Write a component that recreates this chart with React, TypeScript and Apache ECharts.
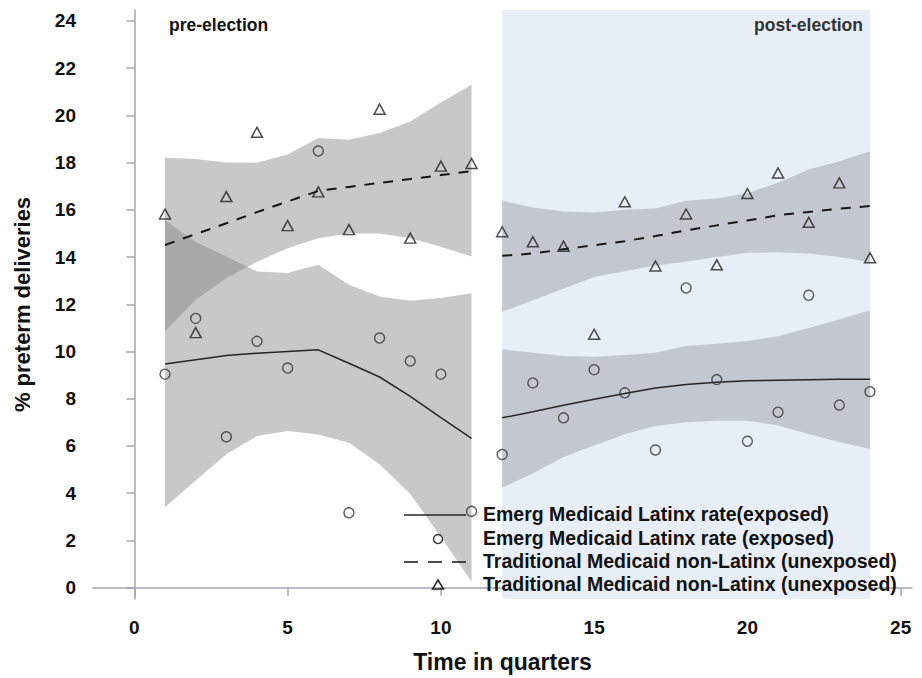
import React, { useEffect, useRef } from "react";
import * as echarts from "echarts";

// ---- data ----
const quarters = [1, 2, 3, 4, 5, 6, 7, 8, 9, 10, 11, 12, 13, 14, 15, 16, 17, 18, 19, 20, 21, 22, 23, 24];
const quartersPre = [1, 2, 3, 4, 5, 6, 7, 8, 9, 10, 11];
const quartersPost = [12, 13, 14, 15, 16, 17, 18, 19, 20, 21, 22, 23, 24];

// observed rates
const emergRate = [9.04, 11.4, 6.39, 10.43, 9.3, 18.49, 3.17, 10.57, 9.6, 9.04, 3.23, 5.64, 8.67, 7.19, 9.23, 8.25, 5.83, 12.69, 8.81, 6.2, 7.43, 12.38, 7.73, 8.3];
const tradRate = [15.82, 10.8, 16.56, 19.28, 15.33, 16.76, 15.16, 20.26, 14.8, 17.85, 17.96, 15.07, 14.65, 14.46, 10.73, 16.34, 13.62, 15.82, 13.67, 16.69, 17.56, 15.47, 17.14, 13.97];

// fitted lines and confidence bands (pre-election)
const emergFitPre = [9.47, 9.65, 9.83, 9.93, 10.0, 10.07, 9.5, 8.92, 8.1, 7.2, 6.32];
const emergLoPre = [3.4, 4.54, 5.65, 6.42, 6.63, 6.49, 6.14, 5.23, 3.97, 2.15, 0.25];
const emergHiPre = [15.56, 14.64, 14.02, 13.39, 13.32, 13.67, 12.83, 12.33, 12.15, 12.26, 12.47];
const tradFitPre = [14.51, 14.97, 15.43, 15.9, 16.35, 16.8, 16.97, 17.14, 17.3, 17.47, 17.64];
const tradLoPre = [10.86, 12.19, 13.1, 13.8, 14.37, 14.79, 15.0, 15.0, 14.79, 14.44, 14.02];
const tradHiPre = [18.2, 18.15, 18.0, 17.99, 18.34, 19.04, 18.97, 19.25, 19.74, 20.54, 21.29];

// fitted lines and confidence bands (post-election)
const emergFitPost = [7.19, 7.45, 7.72, 7.98, 8.22, 8.45, 8.6, 8.7, 8.76, 8.78, 8.8, 8.82, 8.83];
const emergLoPost = [4.24, 4.83, 5.53, 6.02, 6.5, 6.85, 7.0, 7.07, 7.07, 6.87, 6.51, 6.16, 5.88];
const emergHiPost = [10.09, 9.95, 9.81, 9.78, 9.85, 9.95, 10.23, 10.33, 10.44, 10.65, 11.0, 11.35, 11.75];
const tradFitPost = [14.05, 14.15, 14.33, 14.5, 14.67, 14.89, 15.13, 15.34, 15.55, 15.77, 15.91, 16.05, 16.16];
const tradLoPost = [11.68, 12.17, 12.66, 13.15, 13.4, 13.64, 13.8, 14.0, 14.18, 14.2, 14.15, 14.0, 13.79];
const tradHiPost = [16.38, 16.1, 15.93, 15.89, 16.0, 16.06, 16.38, 16.48, 16.7, 17.15, 17.71, 18.06, 18.48];

const xTicks = [0, 5, 10, 15, 20, 25];
const yTicks = [0, 2, 4, 6, 8, 10, 12, 14, 16, 18, 20, 22, 24];
const postPeriod = [12, 24];

const legendLabels = [
  "Emerg Medicaid Latinx rate(exposed)",
  "Emerg Medicaid Latinx rate (exposed)",
  "Traditional Medicaid non-Latinx (unexposed)",
  "Traditional Medicaid non-Latinx (unexposed)",
];

const FONT = "'Liberation Sans', Arial, sans-serif";
const AXIS_COLOR = "#a3a6aa";
const BAND_PRE = "rgba(128,128,128,0.43)";
const BAND_POST = "rgba(109,112,117,0.3)";

function band(name: string, xs: number[], lo: number[], hi: number[], color: string) {
  return {
    type: "custom",
    name,
    z: 2,
    silent: true,
    data: [[xs[0], lo[0]]],
    renderItem: (_params: any, api: any) => {
      const pts: number[][] = [];
      xs.forEach((x, i) => pts.push(api.coord([x, hi[i]])));
      for (let i = xs.length - 1; i >= 0; i--) pts.push(api.coord([xs[i], lo[i]]));
      return { type: "polygon", shape: { points: pts }, style: { fill: color } };
    },
  };
}

function fitLine(name: string, xs: number[], ys: number[], dashed: boolean) {
  return {
    type: "line",
    name,
    z: 3,
    silent: true,
    showSymbol: false,
    data: xs.map((x, i) => [x, ys[i]]),
    lineStyle: dashed
      ? { color: "#161616", width: 2, type: [10, 9] }
      : { color: "#262626", width: 1.5, type: "solid" },
  };
}

export default function App() {
  const ref = useRef<HTMLDivElement>(null);
  useEffect(() => {
    if (!ref.current) return;
    const chart = echarts.init(ref.current, null, { renderer: "svg" });
    const legendRows = [515, 539, 562, 585];
    const option: any = {
      animation: false,
      backgroundColor: "#ffffff",
      grid: { left: 93, right: 10, top: 10, bottom: 75, containLabel: false },
      xAxis: {
        type: "value",
        min: -1.35,
        max: 25.37,
        name: "Time in quarters",
        nameLocation: "middle",
        nameGap: 51,
        nameTextStyle: { fontFamily: FONT, fontWeight: "bold", fontSize: 23, color: "#111" },
        axisLine: { show: true, lineStyle: { color: AXIS_COLOR, width: 1.5 } },
        axisTick: { show: true, length: 8, customValues: xTicks, lineStyle: { color: AXIS_COLOR, width: 1.5 } },
        axisLabel: { customValues: xTicks, margin: 19, fontFamily: FONT, fontWeight: "bold", fontSize: 19, color: "#111" },
        splitLine: { show: false },
      },
      yAxis: {
        type: "value",
        min: -0.48,
        max: 24.46,
        name: "% preterm deliveries",
        nameLocation: "middle",
        nameGap: 60,
        nameTextStyle: { fontFamily: FONT, fontWeight: "bold", fontSize: 22, color: "#111" },
        axisLine: { show: true, lineStyle: { color: AXIS_COLOR, width: 1.5 } },
        axisTick: { show: true, length: 8, customValues: yTicks, lineStyle: { color: AXIS_COLOR, width: 1.5 } },
        axisLabel: { customValues: yTicks, margin: 17, fontFamily: FONT, fontWeight: "bold", fontSize: 19, color: "#111" },
        splitLine: { show: false },
      },
      series: [
        {
          type: "line",
          name: "post-election period",
          z: 1,
          silent: true,
          data: [],
          markArea: {
            silent: true,
            itemStyle: { color: "#e8eef8" },
            data: [[{ xAxis: postPeriod[0], yAxis: -0.48 }, { xAxis: postPeriod[1], yAxis: 24.46 }]],
          },
        },
        band("Traditional CI pre", quartersPre, tradLoPre, tradHiPre, BAND_PRE),
        band("Emerg CI pre", quartersPre, emergLoPre, emergHiPre, BAND_PRE),
        band("Traditional CI post", quartersPost, tradLoPost, tradHiPost, BAND_POST),
        band("Emerg CI post", quartersPost, emergLoPost, emergHiPost, BAND_POST),
        fitLine("Emerg fit pre", quartersPre, emergFitPre, false),
        fitLine("Emerg fit post", quartersPost, emergFitPost, false),
        fitLine("Traditional fit pre", quartersPre, tradFitPre, true),
        fitLine("Traditional fit post", quartersPost, tradFitPost, true),
        {
          type: "scatter",
          name: legendLabels[1],
          z: 4,
          symbol: "circle",
          symbolSize: 10,
          itemStyle: { color: "rgba(0,0,0,0)", borderColor: "#333", borderWidth: 1.4 },
          data: quarters.map((q, i) => [q, emergRate[i]]),
        },
        {
          type: "scatter",
          name: legendLabels[3],
          z: 4,
          symbol: "triangle",
          symbolSize: [11, 10],
          itemStyle: { color: "rgba(0,0,0,0)", borderColor: "#222", borderWidth: 1.5 },
          data: quarters.map((q, i) => [q, tradRate[i]]),
        },
      ],
      graphic: [
        { type: "text", left: 169, top: 16, style: { text: "pre-election", fontFamily: FONT, fontWeight: "bold", fontSize: 17.5, fill: "#111" }, z: 10 },
        { type: "text", right: 922 - 863, top: 16, style: { text: "post-election", fontFamily: FONT, fontWeight: "bold", fontSize: 17.5, fill: "#333" }, z: 10 },
        { type: "line", shape: { x1: 404, y1: legendRows[0], x2: 466, y2: legendRows[0] }, style: { stroke: "#262626", lineWidth: 1.5 }, z: 10 },
        { type: "circle", shape: { cx: 438, cy: legendRows[1], r: 4.5 }, style: { fill: "none", stroke: "#333", lineWidth: 1.4 }, z: 10 },
        { type: "line", shape: { x1: 404, y1: legendRows[2], x2: 466, y2: legendRows[2] }, style: { stroke: "#161616", lineWidth: 1.5, lineDash: [14, 10] }, z: 10 },
        { type: "polygon", shape: { points: [[438, legendRows[3] - 5], [443.5, legendRows[3] + 4], [432.5, legendRows[3] + 4]] }, style: { fill: "none", stroke: "#222", lineWidth: 1.5 }, z: 10 },
        ...legendLabels.map((t, i) => ({
          type: "text",
          x: 483,
          y: legendRows[i] - 1,
          style: { text: t, fontFamily: FONT, fontWeight: "bold", fontSize: 19.5, fill: "#111", verticalAlign: "middle", align: "left" },
          z: 10,
        })),
      ],
    };
    chart.setOption(option);
    return () => chart.dispose();
  }, []);
  return <div ref={ref} style={{ width: 922, height: 678, position: "absolute", left: 0, top: 0 }} />;
}
